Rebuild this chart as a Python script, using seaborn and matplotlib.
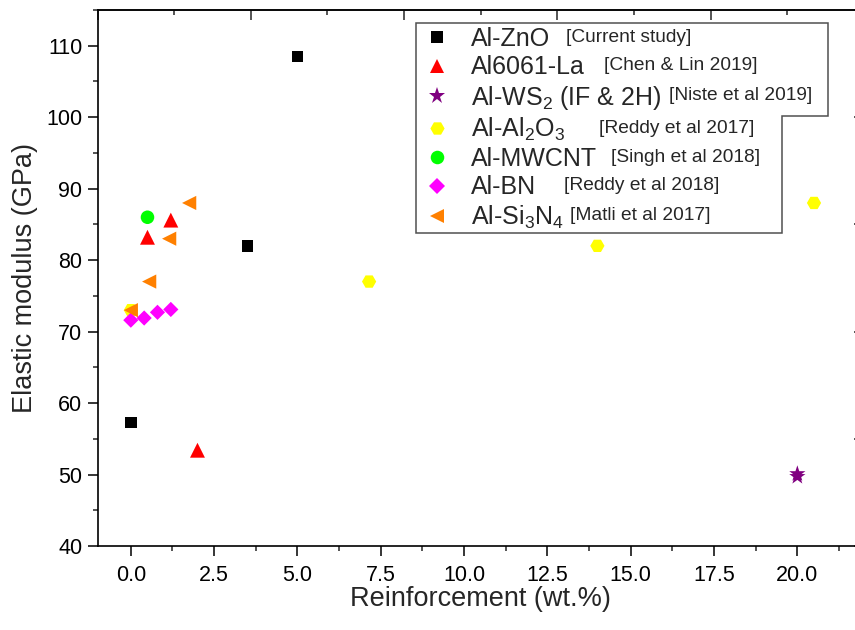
import numpy as np
import pandas as pd
import seaborn as sns
import matplotlib.pyplot as plt
from matplotlib.lines import Line2D
from matplotlib.patches import Polygon
from matplotlib.ticker import MultipleLocator, FixedLocator

series = ["Al-ZnO", "Al6061-La", "Al-WS2", "Al-Al2O3", "Al-MWCNT", "Al-BN", "Al-Si3N4"]
legend_names = ["Al-ZnO", "Al6061-La", "Al-WS$_2$ (IF & 2H)", "Al-Al$_2$O$_3$",
                "Al-MWCNT", "Al-BN", "Al-Si$_3$N$_4$"]
references = ["[Current study]", "[Chen & Lin 2019]", "[Niste et al 2019]",
              "[Reddy et al 2017]", "[Singh et al 2018]", "[Reddy et al 2018]",
              "[Matli et al 2017]"]

zno_x = [0, 3.5, 5]
zno_y = [57.3, 82, 108.5]
la_x = [0.5, 1.2, 2]
la_y = [83.2, 85.6, 53.4]
ws2_x = [20, 20]
ws2_y = [49.7, 50.1]
al2o3_x = [0, 7.15, 14, 20.5]
al2o3_y = [73, 77, 82, 88]
mwcnt_x = [0.5]
mwcnt_y = [86]
bn_x = [0, 0.4, 0.8, 1.2]
bn_y = [71.6, 71.9, 72.7, 73.1]
si3n4_x = [0, 0.55, 1.15, 1.75]
si3n4_y = [73, 77, 83, 88]

colors = ["#000000", "#FF0000", "#800080", "#FFFF00", "#00FF00", "#FF00FF", "#FF8000"]
markers = ["s", "^", "*", "H", "o", "D", "<"]
sizes = [70, 115, 150, 105, 95, 60, 105]

xs = [zno_x, la_x, ws2_x, al2o3_x, mwcnt_x, bn_x, si3n4_x]
ys = [zno_y, la_y, ws2_y, al2o3_y, mwcnt_y, bn_y, si3n4_y]
df = pd.concat([pd.DataFrame({"x": x, "y": y, "series": s})
                for s, x, y in zip(series, xs, ys)], ignore_index=True)

sns.set_style("ticks")
plt.rcParams["font.family"] = ["Liberation Sans", "DejaVu Sans"]
plt.rcParams["mathtext.fontset"] = "custom"
plt.rcParams["mathtext.rm"] = "Liberation Sans"
plt.rcParams["mathtext.it"] = "Liberation Sans:italic"

W, H = 855, 630
fig = plt.figure(figsize=(W / 100, H / 100), dpi=100)
ax = fig.add_axes([97.5 / W, (H - 546) / H, (864 - 97.5) / W, 536 / H])

sns.scatterplot(data=df, x="x", y="y", hue="series", style="series", size="series",
                palette=dict(zip(series, colors)), markers=dict(zip(series, markers)),
                sizes=dict(zip(series, sizes)), linewidth=0, legend=False, ax=ax,
                zorder=3)

ax.set_xlim(-1, 22)
ax.set_ylim(40, 115)
ax.set_xticks(np.arange(0, 21, 2.5))
ax.set_xticklabels([f"{v:.1f}" for v in np.arange(0, 21, 2.5)])
ax.xaxis.set_minor_locator(MultipleLocator(1.25))
ax.yaxis.set_major_locator(MultipleLocator(10))
ax.yaxis.set_minor_locator(MultipleLocator(5))
ax.tick_params(which="major", direction="out", length=7.5, width=1.1, labelsize=15.5,
               colors="black")
ax.tick_params(which="minor", direction="out", length=3.8, width=1.1)
ax.tick_params(axis="x", pad=6)
ax.tick_params(axis="y", pad=3.5)
ax.set_xlabel("Reinforcement (wt.%)", fontsize=19.5, labelpad=0.5)
ax.set_ylabel("Elastic modulus (GPa)", fontsize=19.5, labelpad=6)
for sp in ax.spines.values():
    sp.set_linewidth(1.2)
    sp.set_color("black")

# mirrored Origin-style axes with inward ticks
top = ax.secondary_xaxis("top")
tmaj = np.linspace(-1, 22, 6)
top.xaxis.set_major_locator(FixedLocator(tmaj))
top.xaxis.set_minor_locator(FixedLocator((tmaj[:-1] + tmaj[1:]) / 2))
top.tick_params(which="major", direction="in", length=7.5, width=1.1, labeltop=False)
top.tick_params(which="minor", direction="in", length=3.8, width=1.1)
top.spines["top"].set_linewidth(1.2)
right = ax.secondary_yaxis("right")
rmaj = np.linspace(40, 115, 6)
right.yaxis.set_major_locator(FixedLocator(rmaj))
right.yaxis.set_minor_locator(FixedLocator((rmaj[:-1] + rmaj[1:]) / 2))
right.tick_params(which="major", direction="in", length=7.5, width=1.1, labelright=False)
right.tick_params(which="minor", direction="in", length=3.8, width=1.1)

frame = [(416, 22.5), (828, 22.5), (828, 116), (782, 116), (782, 233), (416, 233)]
ax.add_patch(Polygon([(px / W, 1 - py / H) for px, py in frame], closed=True,
                     transform=fig.transFigure, facecolor="white", clip_on=False,
                     edgecolor="#505050", linewidth=1.1, zorder=2))

handles = [Line2D([], [], ls="none", marker=m, color=c, markersize=np.sqrt(s), mew=0)
           for m, c, s in zip(markers, colors, sizes)]
leg = ax.legend(handles, legend_names, loc="upper left",
                bbox_to_anchor=(416 / W, 1 - 17 / H), bbox_transform=fig.transFigure,
                frameon=False, fontsize=18, handlelength=0.9, handletextpad=0.9,
                borderpad=0.4, labelspacing=0.17, borderaxespad=0)
leg.set_zorder(5)

ref_x = [566, 604, 669, 599, 611, 564, 570]
fig.canvas.draw()
renderer = fig.canvas.get_renderer()
for h, ref, rx in zip(leg.legend_handles, references, ref_x):
    bb = h.get_window_extent(renderer)
    yc = (bb.y0 + bb.y1) / 2 / fig.dpi * 100
    fig.text(rx / W, yc / H, ref, fontsize=13.8, va="center", ha="left", zorder=6)

fig.savefig("out.png", dpi=100)
